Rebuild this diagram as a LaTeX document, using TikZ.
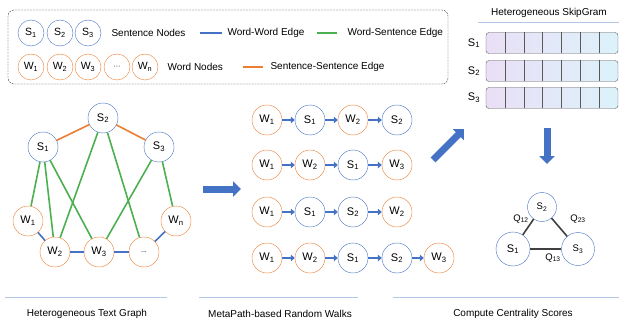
\documentclass[tikz,border=0pt]{standalone}
\usepackage{fontspec}
\setmainfont{Liberation Sans}
\usetikzlibrary{arrows.meta}

\definecolor{edgeblue}{HTML}{4472C4}
\definecolor{edgeorange}{HTML}{ED7D31}
\definecolor{edgegreen}{HTML}{4CAF50}
\definecolor{rulegray}{HTML}{B4C7E7}
\definecolor{cellpurple}{HTML}{EADFF6}
\definecolor{cellcyan}{HTML}{DCF2FA}

\begin{document}
\begin{tikzpicture}[x=1pt, y=-1pt,
    every node/.style={font=\fontsize{10}{12}\selectfont},
    snode/.style={circle, draw=edgeblue, fill=white, minimum size=30pt, inner sep=0pt,
      font=\fontsize{11}{12}\selectfont},
    wnode/.style={snode, draw=edgeorange},
    lsnode/.style={snode, minimum size=26pt, font=\fontsize{10.5}{12}\selectfont},
    lwnode/.style={wnode, minimum size=26pt, font=\fontsize{10.5}{12}\selectfont},
    wsedge/.style={edgegreen, line width=1.6pt},
    ssedge/.style={edgeorange, line width=1.6pt},
    wwedge/.style={edgeblue, line width=1.6pt},
    walkarrow/.style={edgeblue, line width=1.8pt, -{Triangle[length=4pt,width=6.5pt]}},
    bigarrow/.style={edgeblue, line width=7pt, -{Triangle[length=8pt,width=15pt]}},
    qedge/.style={black!75, line width=1.6pt},
    steprule/.style={rulegray, line width=1pt}]
    \useasboundingbox (0,0) rectangle (619,321);

    \draw[dash pattern=on 2pt off 1pt, rounded corners=6pt, black!80] (8,10) rectangle (448,84);
    \node[lsnode] (ls1) at (31,33) {S\textsubscript{1}};
    \node[lsnode] (ls2) at (60,33) {S\textsubscript{2}};
    \node[lsnode] (ls3) at (88,33) {S\textsubscript{3}};
    \node[lwnode] (lw1) at (31,67) {W\textsubscript{1}};
    \node[lwnode] (lw2) at (60,67) {W\textsubscript{2}};
    \node[lwnode] (lw3) at (88,67) {W\textsubscript{3}};
    \node[lwnode] (lwd) at (117,67) {\fontsize{7}{8}\selectfont ···};
    \node[lwnode] (lwn) at (145,67) {W\textsubscript{n}};
    \node[anchor=west] (lsname) at (108,33) {Sentence Nodes};
    \node[anchor=west] (lwname) at (164,67) {Word Nodes};
    \coordinate (ww1) at (200,33);
    \coordinate (ww2) at (222,33);
    \coordinate (ws1) at (317,33);
    \coordinate (ws2) at (337,33);
    \coordinate (ss1) at (243,67);
    \coordinate (ss2) at (263,67);
    \draw[wwedge] (ww1) -- (ww2);
    \draw[wsedge] (ws1) -- (ws2);
    \draw[ssedge] (ss1) -- (ss2);
    \node[anchor=west] (wwname) at (224,33) {Word-Word Edge};
    \node[anchor=west] (wsname) at (344,33) {Word-Sentence Edge};
    \node[anchor=west] (ssname) at (267,67) {Sentence-Sentence Edge};

    \node[snode] (s2) at (103,118) {S\textsubscript{2}};
    \node[snode] (s1) at (43,147) {S\textsubscript{1}};
    \node[snode] (s3) at (159,147) {S\textsubscript{3}};
    \node[wnode] (w1) at (28,221) {W\textsubscript{1}};
    \node[wnode] (w2) at (55,252) {W\textsubscript{2}};
    \node[wnode] (w3) at (99,252) {W\textsubscript{3}};
    \node[wnode] (wd) at (144,252) {\fontsize{7}{8}\selectfont ...};
    \node[wnode] (wn) at (176,221) {W\textsubscript{n}};
    \draw[ssedge] (s1) -- (s2);
    \draw[ssedge] (s2) -- (s3);
    \draw[wsedge] (s1) -- (w1);
    \draw[wsedge] (s1) -- (w2);
    \draw[wsedge] (s1) -- (w3);
    \draw[wsedge] (s2) -- (w2);
    \draw[wsedge] (s2) -- (wd);
    \draw[wsedge] (s3) -- (w3);
    \draw[wsedge] (s3) -- (wn);
    \draw[wwedge] (w1) -- (w2);
    \draw[wwedge] (w2) -- (w3);
    \draw[wwedge] (w3) -- (wd);
    \draw[wwedge] (wd) -- (wn);

    \node[wnode] (p11) at (267,120) {W\textsubscript{1}};
    \node[snode] (p12) at (310,120) {S\textsubscript{1}};
    \node[wnode] (p13) at (353,120) {W\textsubscript{2}};
    \node[snode] (p14) at (397,120) {S\textsubscript{2}};
    \node[wnode] (p21) at (267,165) {W\textsubscript{1}};
    \node[wnode] (p22) at (310,165) {W\textsubscript{2}};
    \node[snode] (p23) at (353,165) {S\textsubscript{1}};
    \node[wnode] (p24) at (397,165) {W\textsubscript{3}};
    \node[wnode] (p31) at (267,212) {W\textsubscript{1}};
    \node[snode] (p32) at (310,212) {S\textsubscript{1}};
    \node[snode] (p33) at (353,212) {S\textsubscript{2}};
    \node[wnode] (p34) at (397,212) {W\textsubscript{2}};
    \node[wnode] (p41) at (267,258) {W\textsubscript{1}};
    \node[wnode] (p42) at (310,258) {W\textsubscript{2}};
    \node[snode] (p43) at (353,258) {S\textsubscript{1}};
    \node[snode] (p44) at (397,258) {S\textsubscript{2}};
    \node[wnode] (p45) at (439,258) {W\textsubscript{3}};
    \foreach \a/\b in {p11/p12, p12/p13, p13/p14, p21/p22, p22/p23, p23/p24,
        p31/p32, p32/p33, p33/p34, p41/p42, p42/p43, p43/p44, p44/p45}
      \draw[walkarrow] (\a) -- (\b);

    \node (skiptitle) at (549,13) {Heterogeneous SkipGram};
    \draw[steprule] (478,23) -- (619,23);
    \foreach \r/\y in {1/43, 2/71, 3/98} {
      \node (v\r) at (474,\y) {\fontsize{11}{12}\selectfont S\textsubscript{\r}};
      \draw[rounded corners=3pt, draw=black!65, left color=cellpurple, right color=cellcyan]
        (486,\y-10.5) rectangle (618,\y+10.5);
      \foreach \c in {1,...,6}
        \draw[black!65] (486+\c*18.86,\y-10.5) -- ++(0,21);
    }

    \node[snode, minimum size=29pt, font=\fontsize{9.5}{10}\selectfont] (c2) at (542,207) {S\textsubscript{2}};
    \node[snode, minimum size=34pt] (c1) at (513,249) {S\textsubscript{1}};
    \node[snode, minimum size=33pt, font=\fontsize{9.5}{10}\selectfont] (c3) at (578,249) {S\textsubscript{3}};
    \draw[qedge] (c1) -- (c2);
    \draw[qedge] (c2) -- (c3);
    \draw[qedge] (c1) -- (c3);
    \node (q12) at (521,219) {\fontsize{9.5}{10}\selectfont Q\textsubscript{12}};
    \node (q23) at (578,219) {\fontsize{9.5}{10}\selectfont Q\textsubscript{23}};
    \node (q13) at (553,258) {\fontsize{9.5}{10}\selectfont Q\textsubscript{13}};

    \coordinate (a1) at (203,189);
    \coordinate (a2) at (241,189);
    \coordinate (a3) at (433,160);
    \coordinate (a4) at (464,129);
    \coordinate (a5) at (547,128);
    \coordinate (a6) at (547,164);
    \draw[bigarrow] (a1) -- (a2);
    \draw[bigarrow] (a3) -- (a4);
    \draw[bigarrow] (a5) -- (a6);

    \draw[steprule] (5,297) -- (167,297);
    \draw[steprule] (199,297) -- (358,297);
    \draw[steprule] (393,297) -- (619,297);
    \node (tgraph) at (87,314) {Heterogeneous Text Graph};
    \node (twalks) at (280,314) {MetaPath-based Random Walks};
    \node (tscores) at (513,314) {Compute Centrality Scores};
\end{tikzpicture}
\end{document}
